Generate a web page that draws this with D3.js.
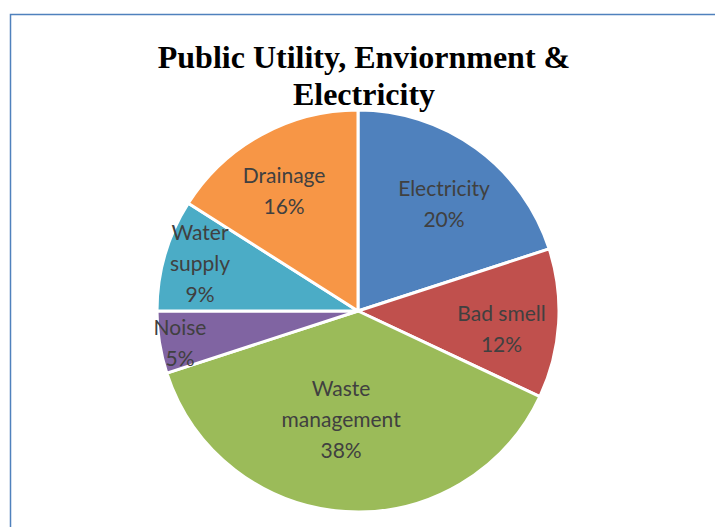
<!DOCTYPE html>
<html>
<head>
<meta charset="utf-8">
<script src="https://cdn.jsdelivr.net/npm/d3@7"></script>
<style>
  html, body { margin: 0; padding: 0; background: #fff; }
  svg { display: block; }
</style>
</head>
<body>
<svg id="chart" width="715" height="527"></svg>
<script>
// Survey categories and their share of responses (%)
const categories = ["Electricity", "Bad smell", "Waste management", "Noise", "Water supply", "Drainage"];
const values = [20, 12, 38, 5, 9, 16];
// Label lines shown inside each slice
const labelLines = [["Electricity"], ["Bad smell"], ["Waste", "management"], ["Noise"], ["Water", "supply"], ["Drainage"]];
const colors = ["#4F81BD", "#C0504D", "#9BBB59", "#8064A2", "#4BACC6", "#F79646"];
const titleLines = ["Public Utility, Enviornment &", "Electricity"];

// Label placement per slice: radius fraction and angular nudge (degrees)
const labelRadius = [0.68, 0.72, 0.55, 0.90, 0.82, 0.70];
const labelNudge = [3, 3.8, 5.2, -1.2, 0.4, -2.9];

const svg = d3.select("#chart");
const cx = 358, cy = 311, R = 201;

// Frame
svg.append("rect")
  .attr("x", 10.5).attr("y", 14.5)
  .attr("width", 720).attr("height", 530)
  .attr("fill", "none")
  .attr("stroke", "#4F81BD")
  .attr("stroke-width", 1.5);

const pie = d3.pie().sort(null).value(d => d);
const arcs = pie(values);
const arc = d3.arc().innerRadius(0).outerRadius(R);

const g = svg.append("g").attr("transform", `translate(${cx},${cy})`);

g.selectAll("path.slice")
  .data(arcs)
  .join("path")
  .attr("class", "slice")
  .attr("d", arc)
  .attr("fill", (d, i) => colors[i])
  .attr("stroke", "#fff")
  .attr("stroke-width", 3)
  .attr("stroke-linejoin", "round");

const lineH = 31;
arcs.forEach((d, i) => {
  const mid = (d.startAngle + d.endAngle) / 2 + labelNudge[i] * Math.PI / 180;
  const r = R * labelRadius[i];
  const x = r * Math.sin(mid);
  const y = -r * Math.cos(mid);
  const lines = labelLines[i].concat([values[i] + "%"]);
  const t = g.append("text")
    .attr("text-anchor", "middle")
    .attr("font-family", "Lato, 'Open Sans', sans-serif")
    .attr("font-size", 21)
    .attr("fill", "#404040");
  const y0 = y - (lines.length - 1) * lineH / 2 + 7;
  lines.forEach((ln, k) => {
    t.append("tspan").attr("x", x).attr("y", y0 + k * lineH).text(ln);
  });
});

// Title
const title = svg.append("text")
  .attr("text-anchor", "middle")
  .attr("font-family", "'Liberation Serif', 'Times New Roman', serif")
  .attr("font-weight", "bold")
  .attr("font-size", 32)
  .attr("fill", "#000");
titleLines.forEach((ln, k) => {
  title.append("tspan").attr("x", 364).attr("y", 68 + k * 37).text(ln);
});
</script>
</body>
</html>
